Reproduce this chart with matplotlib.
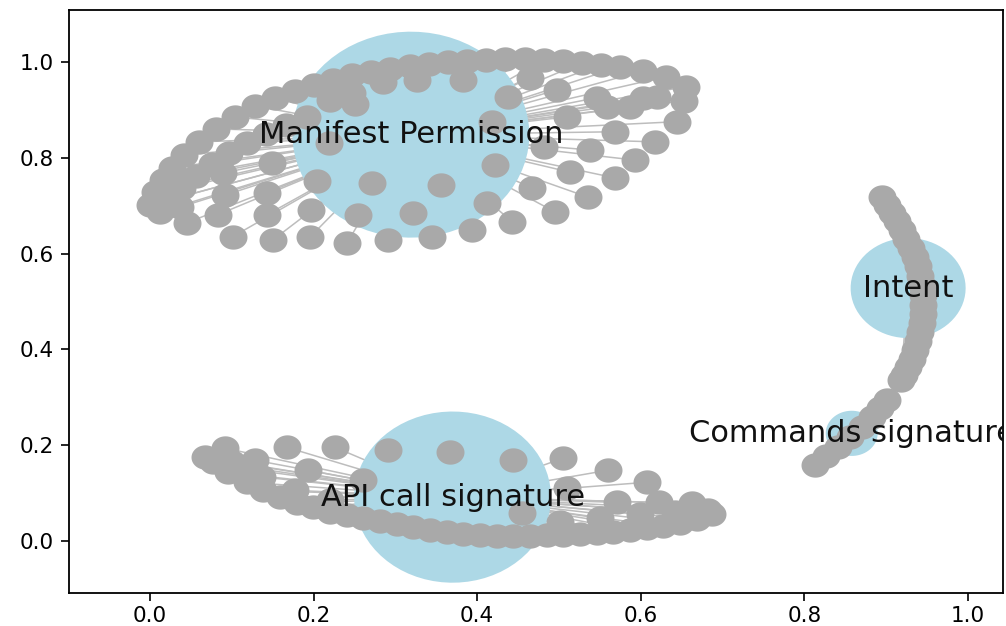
import numpy as np
import matplotlib.pyplot as plt
from matplotlib.path import Path
from matplotlib.markers import MarkerStyle
from matplotlib.collections import LineCollection

# Nodos principales (tipo de característica)
hubs = ['Manifest Permission', 'API call signature', 'Intent', 'Commands signature']
hub_x = [0.319, 0.370, 0.927, 0.858]
hub_y = [0.848, 0.092, 0.528, 0.225]
hub_size = [29100, 20100, 6860, 1400]

# Nodos hoja de cada grupo (x, y)
manifest = [
    # borde superior
    (0.000, 0.701), (0.006, 0.729), (0.016, 0.754), (0.027, 0.779), (0.042, 0.806),
    (0.060, 0.833), (0.081, 0.860), (0.104, 0.885), (0.128, 0.908), (0.153, 0.925),
    (0.177, 0.939), (0.200, 0.952), (0.224, 0.962), (0.247, 0.973), (0.270, 0.979),
    (0.293, 0.985), (0.318, 0.992), (0.341, 0.996), (0.364, 1.000), (0.388, 1.002),
    (0.411, 1.004), (0.434, 1.006), (0.458, 1.006), (0.482, 1.004), (0.505, 1.002),
    (0.528, 0.998), (0.551, 0.994), (0.575, 0.990), (0.603, 0.981), (0.631, 0.969),
    (0.655, 0.948),
    # segunda fila
    (0.012, 0.687), (0.024, 0.712), (0.039, 0.737), (0.056, 0.762), (0.076, 0.787),
    (0.097, 0.810), (0.119, 0.831), (0.142, 0.850), (0.166, 0.868), (0.192, 0.885),
    (0.220, 0.921), (0.247, 0.935), (0.285, 0.958), (0.326, 0.962), (0.383, 0.962),
    (0.465, 0.967), (0.498, 0.942), (0.546, 0.925), (0.559, 0.906), (0.587, 0.906),
    (0.603, 0.925), (0.620, 0.927), (0.653, 0.919),
    # interior
    (0.037, 0.697), (0.045, 0.664), (0.089, 0.768),
    (0.092, 0.722), (0.083, 0.681), (0.101, 0.635), (0.143, 0.727), (0.143, 0.681),
    (0.150, 0.628), (0.149, 0.789), (0.196, 0.635), (0.197, 0.691), (0.204, 0.752),
    (0.219, 0.831), (0.251, 0.912), (0.271, 0.747), (0.254, 0.681), (0.241, 0.622),
    (0.291, 0.628), (0.322, 0.685), (0.345, 0.635), (0.356, 0.743), (0.394, 0.649),
    (0.412, 0.706), (0.422, 0.785), (0.418, 0.875), (0.438, 0.927), (0.443, 0.666),
    (0.467, 0.737), (0.482, 0.823), (0.495, 0.687), (0.513, 0.770), (0.510, 0.885),
    (0.538, 0.816), (0.535, 0.718), (0.568, 0.758), (0.568, 0.854), (0.593, 0.795),
    (0.617, 0.833), (0.644, 0.875),
]

api = [
    # nodos sueltos
    (0.067, 0.175), (0.092, 0.194), (0.128, 0.169), (0.167, 0.196), (0.226, 0.196),
    (0.193, 0.148), (0.260, 0.127), (0.112, 0.152), (0.291, 0.190), (0.367, 0.186),
    (0.444, 0.169), (0.505, 0.173), (0.560, 0.148), (0.608, 0.123), (0.510, 0.111),
    (0.571, 0.081), (0.623, 0.081), (0.663, 0.079), (0.682, 0.065), (0.455, 0.058),
    # arco inferior
    (0.077, 0.165), (0.095, 0.144), (0.119, 0.123), (0.138, 0.106), (0.159, 0.092),
    (0.180, 0.079), (0.199, 0.071), (0.220, 0.061), (0.241, 0.054), (0.260, 0.048),
    (0.281, 0.042), (0.302, 0.035), (0.322, 0.029), (0.342, 0.023), (0.363, 0.019),
    (0.383, 0.015), (0.403, 0.013), (0.424, 0.010), (0.444, 0.010), (0.465, 0.010),
    (0.485, 0.013), (0.505, 0.013), (0.526, 0.015), (0.546, 0.017), (0.566, 0.019),
    (0.587, 0.023), (0.608, 0.027), (0.627, 0.031), (0.648, 0.038), (0.669, 0.046),
    (0.687, 0.056),
    (0.100, 0.165), (0.137, 0.134), (0.177, 0.106), (0.220, 0.086), (0.501, 0.040),
    (0.550, 0.048), (0.599, 0.056), (0.642, 0.061),
]

intent = [
    (0.895, 0.718), (0.901, 0.701), (0.907, 0.685), (0.913, 0.668), (0.919, 0.649),
    (0.925, 0.630), (0.930, 0.612), (0.935, 0.593), (0.939, 0.574), (0.941, 0.553),
    (0.944, 0.534), (0.945, 0.514), (0.945, 0.493), (0.945, 0.474), (0.944, 0.455),
    (0.941, 0.436), (0.939, 0.418), (0.935, 0.399), (0.932, 0.380), (0.927, 0.363),
    (0.922, 0.347), (0.918, 0.336),
]

commands = [
    (0.813, 0.159), (0.826, 0.177), (0.841, 0.196), (0.856, 0.217),
    (0.870, 0.238), (0.883, 0.259), (0.892, 0.278), (0.901, 0.294),
]

leaves = [manifest, api, intent, commands]

# Marcador elíptico (la imagen final está estirada en horizontal)
t = np.linspace(0, 2 * np.pi, 72)
ellipse = MarkerStyle(Path(np.column_stack([1.15 * np.cos(t), np.sin(t)]), closed=True))

fig = plt.figure(figsize=(10.06, 6.26), dpi=100)
ax = fig.add_axes([69 / 1006, 33 / 626, 934 / 1006, 583 / 626])

# Aristas hoja -> nodo principal
segs = []
for i, grupo in enumerate(leaves):
    for (x, y) in grupo:
        segs.append([(hub_x[i], hub_y[i]), (x, y)])
ax.add_collection(LineCollection(segs, colors='#bdbdbd', linewidths=1.1, zorder=1))

# Nodos principales
ax.scatter(hub_x, hub_y, s=hub_size, c='lightblue', marker=ellipse, linewidths=0, zorder=2)

# Nodos hoja
for grupo in leaves:
    xs = [p[0] for p in grupo]
    ys = [p[1] for p in grupo]
    ax.scatter(xs, ys, s=406, c='darkgray', marker=ellipse, linewidths=0, zorder=3)

# Etiquetas (recortadas al área de los ejes)
for i, nombre in enumerate(hubs):
    ax.text(hub_x[i], hub_y[i], nombre, fontsize=22, ha='center', va='center',
            color='#111111', clip_on=True, zorder=4)

ax.set_xlim(-0.099, 1.043)
ax.set_ylim(-0.108, 1.108)
ax.set_xticks([0.0, 0.2, 0.4, 0.6, 0.8, 1.0])
ax.set_yticks([0.0, 0.2, 0.4, 0.6, 0.8, 1.0])
ax.tick_params(labelsize=15.5, length=6, width=1.2, pad=3)
ax.tick_params(axis='y', pad=5)
for sp in ax.spines.values():
    sp.set_linewidth(1.3)

fig.savefig('out.png', dpi=100)
